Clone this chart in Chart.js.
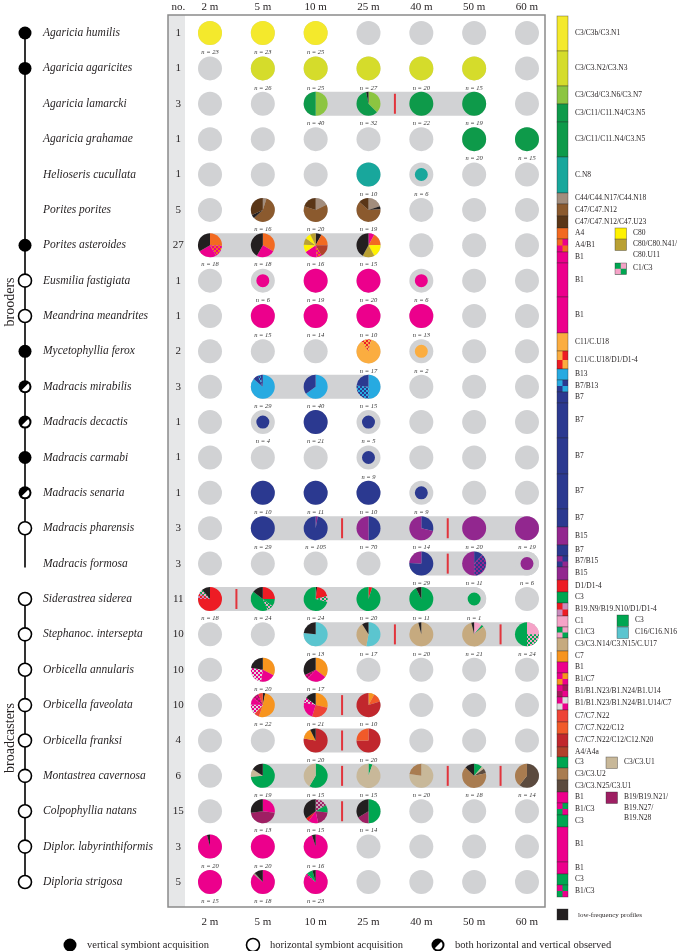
<!DOCTYPE html>
<html>
<head>
<meta charset="utf-8">
<script src="https://cdn.jsdelivr.net/npm/chart.js@4"></script>
<style>
  html, body { margin: 0; background: #fff; }
  canvas { display: block; }
</style>
</head>
<body>
<canvas id="chart" width="679" height="951"></canvas>
<script>
// Depth columns and species rows
const depths = ['2 m', '5 m', '10 m', '25 m', '40 m', '50 m', '60 m'];
const species = ['Agaricia humilis', 'Agaricia agaricites', 'Agaricia lamarcki', 'Agaricia grahamae',
  'Helioseris cucullata', 'Porites porites', 'Porites asteroides', 'Eusmilia fastigiata',
  'Meandrina meandrites', 'Mycetophyllia ferox', 'Madracis mirabilis', 'Madracis decactis',
  'Madracis carmabi', 'Madracis senaria', 'Madracis pharensis', 'Madracis formosa',
  'Siderastrea siderea', 'Stephanoc. intersepta', 'Orbicella annularis', 'Orbicella faveolata',
  'Orbicella franksi', 'Montastrea cavernosa', 'Colpophyllia natans', 'Diplor. labyrinthiformis',
  'Diploria strigosa'];
const profileCount = [1, 1, 3, 1, 1, 5, 27, 1, 1, 2, 3, 1, 1, 1, 3, 3, 11, 10, 10, 10, 4, 6, 15, 3, 5];
// v = vertical, h = horizontal, b = both observed, '' = no node
const acquisition = ['v', 'v', '', '', '', '', 'v', 'h', 'h', 'v', 'b', 'b', 'v', 'b', 'h', '',
  'h', 'h', 'h', 'h', 'h', 'h', 'h', 'h', 'h'];

// sampled cells: [row, depth column, n, [[profile, share], ...]] clockwise from 12 o'clock
const cells = [
  [0, 0, 23, [['Y1', 1]]], [0, 1, 23, [['Y1', 1]]], [0, 2, 25, [['Y1', 1]]],
  [1, 1, 26, [['Y2', 1]]], [1, 2, 25, [['Y2', 1]]], [1, 3, 27, [['Y2', 1]]], [1, 4, 20, [['Y2', 1]]], [1, 5, 15, [['Y2', 1]]],
  [2, 2, 40, [['LG', 20], ['G', 20]]], [2, 3, 32, [['LG', 12], ['G', 19], ['LF', 1]]], [2, 4, 22, [['G', 1]]], [2, 5, 19, [['G', 1]]],
  [3, 5, 20, [['G', 1]]], [3, 6, 15, [['G', 1]]],
  [4, 3, 10, [['TEAL', 1]]], [4, 4, 6, [['TEAL', 1]]],
  [5, 1, 16, [['C44', 0.8], ['C47', 9.3], ['LF', 0.8], ['C47D', 5.1]]],
  [5, 2, 20, [['C44', 3.6], ['C47', 12.4], ['C47D', 4]]],
  [5, 3, 19, [['C44', 3.8], ['LF', 0.8], ['C47', 11.8], ['C47D', 2.6]]],
  [6, 0, 18, [['A4', 4.5], ['A4B1', 3], ['B1', 4.5], ['LF', 6]]],
  [6, 1, 18, [['A4', 6], ['B1', 4.5], ['LF', 7.5]]],
  [6, 2, 16, [['LF', 1.3], ['A4', 2.7], ['A4A', 2.7], ['A4B1', 1.1], ['B1', 2.7], ['C80', 1.6], ['C80N41', 1.5], ['C80', 1.2], ['C80N41', 1.2]]],
  [6, 3, 15, [['B1', 1.2], ['A4', 2.5], ['C80', 2.6], ['C80N41', 2.4], ['LF', 6.3]]],
  [7, 1, 6, [['B1', 1]]], [7, 2, 19, [['B1', 1]]], [7, 3, 20, [['B1', 1]]], [7, 4, 6, [['B1', 1]]],
  [8, 1, 15, [['B1', 1]]], [8, 2, 14, [['B1', 1]]], [8, 3, 10, [['B1', 1]]], [8, 4, 13, [['B1', 1]]],
  [9, 3, 17, [['C11D1', 0.6], ['C11', 14.8], ['C11D1', 1.6]]], [9, 4, 2, [['C11', 1]]],
  [10, 1, 29, [['B13', 25], ['B7', 2], ['B7B13', 1], ['B7', 1]]],
  [10, 2, 40, [['B13', 26], ['B7', 14]]],
  [10, 3, 15, [['B13', 7.5], ['B7B13', 4], ['B7', 3.5]]],
  [11, 1, 4, [['B7', 1]]], [11, 2, 21, [['B7', 1]]], [11, 3, 5, [['B7', 1]]],
  [12, 3, 9, [['B7', 1]]],
  [13, 1, 10, [['B7', 1]]], [13, 2, 11, [['B7', 1]]], [13, 3, 10, [['B7', 1]]], [13, 4, 9, [['B7', 1]]],
  [14, 1, 29, [['B7', 1]]], [14, 2, 105, [['B15', 3], ['B7', 102]]], [14, 3, 70, [['B7', 35], ['B15', 35]]],
  [14, 4, 14, [['B7', 4], ['B15', 10]]], [14, 5, 20, [['B15', 1]]], [14, 6, 19, [['B15', 1]]],
  [15, 4, 29, [['B7', 22], ['B15', 7]]], [15, 5, 11, [['B7', 1.3], ['B7B15', 4.2], ['B15', 5.5]]], [15, 6, 6, [['B15', 1]]],
  [16, 0, 18, [['D1', 13.5], ['B19D1', 1.5], ['C1C3', 1], ['LF', 2]]],
  [16, 1, 24, [['D1', 6], ['C3', 2.5], ['C1C3', 2], ['C3', 10], ['LF', 3.5]]],
  [16, 2, 24, [['LF', 0.5], ['D1', 4.5], ['C1C3', 2], ['C3', 17]]],
  [16, 3, 20, [['D1', 1], ['C3', 19]]],
  [16, 4, 11, [['C3', 10.2], ['LF', 0.8]]], [16, 5, 1, [['C3', 1]]],
  [17, 2, 13, [['C16', 10], ['LF', 3]]],
  [17, 3, 17, [['C16', 9], ['TAN', 6.5], ['LF', 1.5]]],
  [17, 4, 20, [['TAN', 19.2], ['LF', 0.8]]],
  [17, 5, 21, [['C1', 2.3], ['C3', 0.6], ['TAN', 17.3], ['LF', 0.8]]],
  [17, 6, 24, [['C1', 6], ['C1C3', 6], ['C3', 12]]],
  [18, 1, 20, [['C7', 6.5], ['B1', 4], ['B1N23C7', 5], ['LF', 4.5]]],
  [18, 2, 17, [['C7', 6], ['B1', 4.5], ['B1N23', 1], ['LF', 5.5]]],
  [19, 1, 22, [['LF', 0.7], ['C7', 11.5], ['C7N22', 1.5], ['B1N23C7', 3], ['B1', 2], ['B1N23', 2], ['C7N22', 1.3]]],
  [19, 2, 21, [['C7', 6], ['C7N22', 5.5], ['B1', 5], ['B1N23C7', 1.5], ['LF', 3]]],
  [19, 3, 10, [['C7', 0.8], ['C12', 1.2], ['C12N20', 8]]],
  [20, 2, 20, [['C12N20', 15.5], ['C7', 3], ['LF', 1.5]]],
  [20, 3, 20, [['C12N20', 15], ['C12', 5]]],
  [21, 1, 19, [['C3', 14], ['TANU1', 2], ['LF', 3]]],
  [21, 2, 15, [['C3', 8.8], ['TANU1', 6.2]]],
  [21, 3, 15, [['C3', 0.8], ['TANU1', 14.2]]],
  [21, 4, 20, [['TANU1', 15.5], ['BR', 4.5]]],
  [21, 5, 18, [['C3', 2], ['TANU1', 0.7], ['DBR', 1.2], ['BR', 11.8], ['LF', 2.3]]],
  [21, 6, 14, [['DBR', 8.5], ['BR', 5.5]]],
  [22, 1, 13, [['B1', 3.5], ['B19', 6], ['LF', 3.5]]],
  [22, 2, 15, [['B19X', 2.5], ['C3', 1.5], ['B19', 3], ['B1', 2], ['D1', 0.7], ['LF', 5.3]]],
  [22, 3, 14, [['C3', 7], ['B19', 2.3], ['LF', 4.7]]],
  [23, 0, 20, [['B1', 19.2], ['LF', 0.8]]], [23, 1, 20, [['B1', 1]]], [23, 2, 16, [['B1', 15.2], ['LF', 0.8]]],
  [24, 0, 15, [['B1', 1]]], [24, 1, 18, [['B1', 15.5], ['C44', 0.4], ['LF', 2.1]]],
  [24, 2, 23, [['B1', 19.5], ['B1C3', 0.7], ['C3', 1.8], ['LF', 1]]]
];

// grey connecting bars [row, from column, to column] and red breaks [row, after column]
const ranges = [[2, 2, 5], [6, 0, 3], [10, 1, 3], [14, 1, 6], [15, 4, 6], [16, 0, 5], [17, 2, 6],
  [19, 1, 3], [20, 2, 3], [21, 1, 6], [22, 1, 3]];
const breaks = [[2, 3], [14, 2], [14, 4], [15, 4], [16, 0], [17, 3], [17, 5], [19, 2], [20, 2],
  [21, 2], [21, 4], [21, 5], [22, 2]];

// colour legend bar
const legendKeys = ['Y1', 'Y2', 'LG', 'G', 'G', 'TEAL', 'C44', 'C47', 'C47D', 'A4', 'A4B1', 'B1', 'B1', 'B1',
  'C11', 'C11D1', 'B13', 'B7B13', 'B7', 'B7', 'B7', 'B7', 'B7', 'B15', 'B7', 'B7B15', 'B15', 'D1', 'C3',
  'B19D1', 'C1', 'C1C3', 'TAN', 'C7', 'B1', 'B1C7', 'B1N23', 'B1N23C7', 'C7N22', 'C12', 'C12N20', 'A4A',
  'C3', 'BR', 'DBR', 'B1', 'B1C3', 'C3', 'B1', 'B1', 'C3', 'B1C3'];
const legendNames = ['C3/C3b/C3.N1', 'C3/C3.N2/C3.N3', 'C3/C3d/C3.N6/C3.N7', 'C3/C11/C11.N4/C3.N5',
  'C3/C11/C11.N4/C3.N5', 'C.N8', 'C44/C44.N17/C44.N18', 'C47/C47.N12', 'C47/C47.N12/C47.U23', 'A4', 'A4/B1',
  'B1', 'B1', 'B1', 'C11/C.U18', 'C11/C.U18/D1/D1-4', 'B13', 'B7/B13', 'B7', 'B7', 'B7', 'B7', 'B7', 'B15',
  'B7', 'B7/B15', 'B15', 'D1/D1-4', 'C3', 'B19.N9/B19.N10/D1/D1-4', 'C1', 'C1/C3', 'C3/C3.N14/C3.N15/C.U17',
  'C7', 'B1', 'B1/C7', 'B1/B1.N23/B1.N24/B1.U14', 'B1/B1.N23/B1.N24/B1.U14/C7', 'C7/C7.N22', 'C7/C7.N22/C12',
  'C7/C7.N22/C12/C12.N20', 'A4/A4a', 'C3', 'C3/C3.U2', 'C3/C3.N25/C3.U1', 'B1', 'B1/C3', 'C3', 'B1', 'B1',
  'C3', 'B1/C3'];
const legendEdges = [16, 51, 86, 104, 122, 157, 193, 204, 216, 228, 239, 252, 263, 297, 333, 351, 369, 380,
  392, 403, 438, 474, 509, 527, 545, 556, 567, 580, 592, 603, 616, 627, 638, 651, 662, 673, 685, 697, 710,
  722, 734, 747, 757, 768, 780, 792, 803, 815, 827, 862, 874, 885, 897];
// extra keys beside the bar: [key, x, top, label lines]
const sideKeys = [
  ['C80', 615, 228, ['C80']], ['C80N41', 615, 239, ['C80/C80.N41/', 'C80.U11']], ['C1C3', 615, 263, ['C1/C3']],
  ['C3', 617, 615, ['C3']], ['C16', 617, 627, ['C16/C16.N16']], ['TANU1', 606, 757, ['C3/C3.U1']],
  ['B19', 606, 792, ['B19/B19.N21/', 'B19.N27/', 'B19.N28']]
];

const palette = {
  Y1: '#f4e92c', Y2: '#d5dc2b', LG: '#8cc541', G: '#0e9a4a', TEAL: '#18a79c', C44: '#a28d7d',
  C47: '#8b5a2e', C47D: '#5a3617', A4: '#f26a21', A4A: '#b2412b', B1: '#ec008c', C11: '#fbad40',
  B13: '#27aae1', B7: '#2b3990', B15: '#92278f', D1: '#ed1c24', C3: '#00a651', C1: '#f5a3c7',
  TAN: '#c6aa7f', C7: '#f7941e', C7N22: '#ee4436', C12: '#f15a29', C12N20: '#c1272d', BR: '#a97c50',
  DBR: '#5b4a3e', C80: '#fff200', C80N41: '#b9a033', C16: '#5bc5cf', TANU1: '#c8b899', B19: '#9e1f63',
  LF: '#231f20'
};
const checkers = {
  A4B1: ['#f26a21', '#ec008c'], C11D1: ['#fbad40', '#ed1c24'], B7B13: ['#27aae1', '#2b3990'],
  B7B15: ['#92278f', '#2b3990'], B19D1: ['#ed1c24', '#c98bbd'], C1C3: ['#00a651', '#f5a3c7'],
  B1C7: ['#ec008c', '#f7941e'], B1N23: ['#ec008c', '#a3195b'], B1N23C7: ['#ec008c', '#dcdcdc'],
  B1C3: ['#ec008c', '#00a651'], B19X: ['#9e1f63', '#c4a3b6']
};

const SERIF = '"Liberation Serif", "Times New Roman", serif';
const GREY = '#d1d2d4';

function checkerTile(a, b, s) {
  const c = document.createElement('canvas');
  c.width = c.height = 2 * s;
  const g = c.getContext('2d');
  g.fillStyle = a;
  g.fillRect(0, 0, 2 * s, 2 * s);
  g.fillStyle = b;
  g.fillRect(s, 0, s, s);
  g.fillRect(0, s, s, s);
  return c;
}

function fillFor(ctx, key) {
  if (palette[key]) return palette[key];
  const [a, b] = checkers[key];
  return ctx.createPattern(checkerTile(a, b, 2), 'repeat');
}

function drawPie(ctx, x, y, r, slices) {
  const total = slices.reduce((s, d) => s + d[1], 0);
  let a = -Math.PI / 2;
  slices.forEach(([k, v]) => {
    const a2 = a + v / total * Math.PI * 2;
    ctx.beginPath();
    ctx.moveTo(x, y);
    ctx.arc(x, y, r, a, a2);
    ctx.closePath();
    ctx.fillStyle = fillFor(ctx, k);
    ctx.fill();
    a = a2;
  });
}

function swatch(ctx, key, x, y, w, h) {
  if (palette[key]) {
    ctx.fillStyle = palette[key];
    ctx.fillRect(x, y, w, h);
  } else {
    const [a, b] = checkers[key];
    ctx.fillStyle = a;
    ctx.fillRect(x, y, w, h);
    ctx.fillStyle = b;
    ctx.fillRect(x + w / 2, y, w / 2, h / 2);
    ctx.fillRect(x, y + h / 2, w / 2, h / 2);
  }
  ctx.strokeStyle = 'rgba(40,40,40,0.6)';
  ctx.lineWidth = 0.6;
  ctx.strokeRect(x, y, w, h);
}

function node(ctx, type, x, y, r) {
  ctx.lineWidth = 1.6;
  ctx.strokeStyle = '#000';
  ctx.beginPath();
  ctx.arc(x, y, r, 0, Math.PI * 2);
  if (type === 'h') {
    ctx.fillStyle = '#fff';
    ctx.fill();
    ctx.stroke();
    return;
  }
  ctx.fillStyle = '#000';
  ctx.fill();
  if (type === 'b') {
    ctx.beginPath();
    ctx.arc(x, y, r - 2, -Math.PI / 4, Math.PI * 3 / 4);
    ctx.closePath();
    ctx.fillStyle = '#fff';
    ctx.fill();
  }
}

const gridPoints = [];
species.forEach((s, r) => depths.forEach((d, c) => gridPoints.push({ x: c, y: r })));

const figurePlugin = {
  id: 'figure',
  beforeDatasetsDraw(chart) {
    const { ctx, chartArea: a, scales: { x, y } } = chart;
    ctx.save();
    // no. strip and frame
    ctx.fillStyle = '#e6e7e8';
    ctx.fillRect(a.left, a.top, 17, a.bottom - a.top);
    ctx.strokeStyle = '#8a8a8a';
    ctx.lineWidth = 1.5;
    ctx.strokeRect(a.left, a.top, a.right - a.left, a.bottom - a.top);
    // grey range bars
    ctx.strokeStyle = GREY;
    ctx.lineWidth = 24;
    ctx.lineCap = 'round';
    ranges.forEach(([r, c1, c2]) => {
      ctx.beginPath();
      ctx.moveTo(x.getPixelForValue(c1), y.getPixelForValue(r));
      ctx.lineTo(x.getPixelForValue(c2), y.getPixelForValue(r));
      ctx.stroke();
    });
    ctx.fillStyle = '#e2343c';
    breaks.forEach(([r, c]) => {
      ctx.fillRect(x.getPixelForValue(c + 0.5) - 1, y.getPixelForValue(r) - 10, 2, 20);
    });
    ctx.restore();
  },
  afterDatasetsDraw(chart) {
    const { ctx, chartArea: a, scales: { x, y } } = chart;
    ctx.save();
    // pies
    cells.forEach(([r, c, n, slices]) => {
      const px = x.getPixelForValue(c), py = y.getPixelForValue(r);
      drawPie(ctx, px, py, n < 10 ? 6.5 : 12, slices);
      ctx.fillStyle = '#333';
      ctx.font = 'italic 6.5px ' + SERIF;
      ctx.textAlign = 'center';
      ctx.textBaseline = 'middle';
      ctx.fillText('n = ' + n, px, py + 19.5);
    });
    // depth headers
    ctx.fillStyle = '#231f20';
    ctx.font = '11px ' + SERIF;
    ctx.textAlign = 'center';
    ctx.textBaseline = 'middle';
    depths.forEach((d, c) => {
      ctx.fillText(d, x.getPixelForValue(c), 7);
      ctx.fillText(d, x.getPixelForValue(c), a.bottom + 15);
    });
    ctx.fillText('no.', x.getPixelForValue(-0.6), 7);
    // counts and names
    const treeX = a.left - 143;
    species.forEach((s, r) => {
      const py = y.getPixelForValue(r);
      ctx.font = '11px ' + SERIF;
      ctx.textAlign = 'center';
      ctx.fillStyle = '#231f20';
      ctx.fillText(String(profileCount[r]), x.getPixelForValue(-0.6), py);
      ctx.font = 'italic 11.5px ' + SERIF;
      ctx.textAlign = 'left';
      ctx.fillText(s, a.left - 125, py);
    });
    // tree
    ctx.strokeStyle = '#000';
    ctx.lineWidth = 1.6;
    ctx.beginPath();
    ctx.moveTo(treeX, y.getPixelForValue(0));
    ctx.lineTo(treeX, y.getPixelForValue(15) + 4);
    ctx.moveTo(treeX, y.getPixelForValue(16));
    ctx.lineTo(treeX, y.getPixelForValue(24));
    ctx.stroke();
    acquisition.forEach((t, r) => {
      if (t) node(ctx, t, treeX, y.getPixelForValue(r), 6.5);
    });
    ctx.fillStyle = '#231f20';
    ctx.font = '14px ' + SERIF;
    ctx.textAlign = 'center';
    [['brooders', 302], ['broadcasters', 738]].forEach(([t, cy]) => {
      ctx.save();
      ctx.translate(10, cy);
      ctx.rotate(-Math.PI / 2);
      ctx.fillText(t, 0, 0);
      ctx.restore();
    });
    // colour bar legend
    const barX = a.right + 12;
    ctx.font = '7.5px ' + SERIF;
    ctx.textAlign = 'left';
    legendKeys.forEach((k, i) => {
      const top = legendEdges[i], bot = legendEdges[i + 1];
      swatch(ctx, k, barX, top, 11, bot - top);
      ctx.fillStyle = '#231f20';
      ctx.fillText(legendNames[i], barX + 18, (top + bot) / 2);
    });
    sideKeys.forEach(([k, sx, sy, lines]) => {
      swatch(ctx, k, sx, sy, 11.5, 11.5);
      ctx.fillStyle = '#231f20';
      lines.forEach((l, j) => ctx.fillText(l, sx + 18, sy + 5.5 + j * 10.5));
    });
    swatch(ctx, 'LF', barX, 909, 11, 11);
    ctx.fillStyle = '#231f20';
    ctx.font = '7px ' + SERIF;
    ctx.fillText('low-frequency profiles', barX + 21, 915);
    ctx.strokeStyle = '#9a9a9a';
    ctx.lineWidth = 1;
    ctx.beginPath();
    ctx.moveTo(a.right + 6, 652);
    ctx.lineTo(a.right + 6, 757);
    ctx.stroke();
    // acquisition legend
    ctx.font = '10.5px ' + SERIF;
    ctx.textBaseline = 'middle';
    [['v', 70, 'vertical symbiont acquisition'], ['h', 253, 'horizontal symbiont acquisition'],
     ['b', 438, 'both horizontal and vertical observed']].forEach(([t, lx, label]) => {
      node(ctx, t, lx, 945, 6.5);
      ctx.fillStyle = '#231f20';
      ctx.fillText(label, lx + 17, 945);
    });
    ctx.restore();
  }
};

new Chart(document.getElementById('chart'), {
  type: 'scatter',
  data: {
    datasets: [{
      data: gridPoints,
      pointRadius: 12,
      pointHoverRadius: 12,
      backgroundColor: GREY,
      borderWidth: 0
    }]
  },
  options: {
    responsive: false,
    animation: false,
    events: [],
    layout: { padding: { left: 168, right: 134, top: 15, bottom: 44 } },
    plugins: { legend: { display: false }, tooltip: { enabled: false } },
    scales: {
      x: { type: 'linear', display: false, min: -0.795, max: 6.341 },
      y: { type: 'linear', display: false, min: -0.509, max: 24.707, reverse: true }
    }
  },
  plugins: [figurePlugin]
});
</script>
</body>
</html>
